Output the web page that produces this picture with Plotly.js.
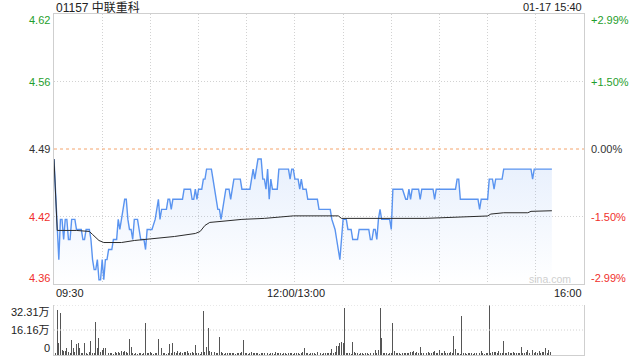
<!DOCTYPE html>
<html><head><meta charset="utf-8">
<script src="https://cdn.plot.ly/plotly-3.0.1.min.js"></script>
<style>html,body{margin:0;padding:0;background:#fff}#chart{width:640px;height:360px}</style>
</head><body><div id="chart"></div>
<script>
// ---- data ----
const stockCode = '01157';
const stockName = '中联重科';
const stamp = '01-17 15:40';
const prevClose = 4.49;
const bandPct = 0.0299;
const sessionMinutes = 330;
const timeLabels = ['09:30', '12:00/13:00', '16:00'];
const timeLabelMin = [0, 150, 330];
const priceLabels = ['4.62', '4.56', '4.49', '4.42', '4.36'];
const pctLabels = ['+2.99%', '+1.50%', '0.00%', '-1.50%', '-2.99%'];

const priceMin = [0,2,3,4,5,6,7,8,9,10,11,13,14,17,18,19,20,22,23,24,25,26,27,28,29,30,31,32,33,34,36,37,39,40,41,42,43,44,45,46,47,48,49,50,52,53,54,56,57,58,61,63,64,65,66,67,70,71,72,73,74,80,81,85,86,87,88,89,90,92,93,94,95,98,99,100,101,102,103,104,105,106,107,109,110,111,112,116,117,122,123,124,125,126,127,129,130,131,132,133,134,135,136,139,140,146,147,148,149,150,152,153,154,155,157,158,164,165,172,173,175,176,178,180,182,183,185,186,189,190,196,197,198,199,200,201,202,203,204,209,210,211,217,219,220,221,222,223,227,228,229,236,237,238,250,251,252,253,264,265,266,270,271,273,274,275,279,280,297,298,299,310];
const price = [4.48,4.42,4.38,4.42,4.42,4.40,4.42,4.42,4.40,4.40,4.42,4.42,4.41,4.41,4.40,4.40,4.41,4.41,4.40,4.38,4.37,4.37,4.38,4.36,4.36,4.38,4.36,4.38,4.38,4.39,4.39,4.40,4.40,4.42,4.41,4.42,4.43,4.44,4.44,4.42,4.41,4.41,4.40,4.42,4.42,4.41,4.40,4.40,4.39,4.41,4.41,4.42,4.43,4.44,4.42,4.43,4.43,4.44,4.44,4.43,4.44,4.44,4.45,4.45,4.44,4.44,4.45,4.44,4.45,4.45,4.46,4.46,4.47,4.47,4.46,4.45,4.44,4.43,4.43,4.42,4.43,4.44,4.45,4.45,4.44,4.45,4.46,4.46,4.45,4.45,4.46,4.47,4.46,4.47,4.48,4.48,4.46,4.46,4.45,4.47,4.44,4.46,4.45,4.45,4.47,4.47,4.46,4.47,4.47,4.46,4.46,4.45,4.46,4.45,4.45,4.44,4.44,4.43,4.43,4.42,4.41,4.40,4.38,4.42,4.42,4.41,4.41,4.40,4.40,4.41,4.41,4.40,4.40,4.41,4.41,4.40,4.42,4.43,4.42,4.42,4.41,4.45,4.45,4.44,4.44,4.45,4.44,4.45,4.45,4.44,4.45,4.45,4.44,4.45,4.45,4.46,4.46,4.44,4.44,4.43,4.44,4.44,4.46,4.46,4.45,4.46,4.46,4.47,4.47,4.46,4.47,4.47];

const avgMin = [0,2,14,22,24,28,31,42,50,62,75,88,91,94,97,104,117,131,140,149,177,179,231,248,262,270,272,280,295,297,310];
const avgPrice = [4.48,4.409,4.409,4.408,4.405,4.399,4.397,4.397,4.399,4.401,4.403,4.406,4.408,4.414,4.417,4.418,4.420,4.421,4.422,4.4235,4.4235,4.421,4.421,4.422,4.4234,4.4234,4.4253,4.4266,4.4266,4.428,4.4286];

const volume = [
 20000,15000,290000,75000,274000,30000,25000,28000,43000,18000,
 15000,97000,43000,22000,69000,75000,43000,15000,10000,80000,
 12000,9000,18000,90000,14000,10000,215000,43000,108000,20000,
 32000,43000,43000,43000,15000,10000,12000,8000,20000,15000,
 22000,15000,25000,18000,28000,20000,12000,103000,54000,10000,
 8000,12000,6000,10000,15000,9000,12000,209000,10000,15000,
 20000,12000,8000,15000,10000,101000,18000,43000,12000,10000,
 9000,15000,71000,12000,75000,18000,10000,25000,12000,20000,
 15000,18000,22000,28000,15000,12000,20000,10000,65000,15000,
 12000,8000,20000,284000,22000,54000,174000,25000,18000,15000,
 20000,12000,15000,114000,18000,10000,8000,15000,12000,10000,
 12000,15000,10000,8000,12000,15000,10000,18000,97000,12000,
 10000,8000,15000,20000,12000,10000,15000,12000,8000,10000,
 12000,15000,47000,10000,8000,12000,10000,8000,20000,10000,
 10000,12000,8000,15000,10000,8000,12000,15000,10000,8000,
 12000,10000,15000,8000,12000,20000,47000,10000,15000,8000,
 10000,15000,12000,8000,20000,10000,15000,8000,12000,10000,
 15000,10000,12000,39000,15000,20000,58000,58000,80000,84000,
 75000,302000,10000,15000,12000,8000,86000,20000,10000,12000,
 8000,10000,12000,8000,15000,10000,8000,12000,10000,15000,
 32000,12000,32000,302000,110000,10000,15000,12000,8000,10000,
 15000,207000,25000,12000,10000,15000,8000,12000,10000,15000,
 12000,15000,20000,18000,26000,15000,20000,12000,50000,15000,
 10000,18000,15000,20000,12000,15000,18000,26000,12000,10000,
 32000,15000,12000,26000,15000,10000,12000,20000,15000,123000,
 39000,12000,10000,8000,252000,10000,12000,8000,10000,15000,
 12000,8000,10000,15000,12000,10000,26000,12000,8000,15000,
 10000,323100,15000,20000,18000,22000,15000,25000,12000,10000,
 90000,15000,12000,20000,10000,15000,18000,12000,10000,15000,
 12000,50000,15000,10000,18000,32000,12000,10000,32000,15000,
 20000,12000,28000,15000,20000,18000,43000,12000,32000,20000
];

// ---- build ----
const hi = prevClose * (1 + bandPct);
const lo = prevClose * (1 - bandPct);
const tickPos = [0,1,2,3,4].map(i => hi - i * (hi - lo) / 4);
const volMax = Math.max(...volume);
const volIdx = volume.map((_, i) => i);

const GREEN = '#1f9e2c', RED = '#f0302c', DARK = '#333333';
const labelColors = [GREEN, GREEN, DARK, RED, RED];
const FONT = 'Liberation Sans, Arial, "Noto Sans CJK SC", sans-serif';
const GRID = '#d2d2d2';
const GRIDDASH = '1px,2px';

const traces = [
  {
    x: priceMin, y: price, type: 'scatter', mode: 'lines',
    xaxis: 'x', yaxis: 'y',
    line: {color: '#5a94f0', width: 1.4},
    fill: 'tozeroy',
    fillgradient: {type: 'vertical', start: lo, stop: prevClose,
      colorscale: [[0, 'rgba(85,144,239,0.0)'], [1, 'rgba(85,144,239,0.15)']]},
    hoverinfo: 'skip'
  },
  {
    x: avgMin, y: avgPrice, type: 'scatter', mode: 'lines',
    xaxis: 'x', yaxis: 'y',
    line: {color: '#2b2b2b', width: 1},
    hoverinfo: 'skip'
  },
  {
    x: volIdx, y: volume, type: 'bar', xaxis: 'x2', yaxis: 'y2',
    marker: {color: '#555555', line: {width: 0}}, width: 0.6,
    hoverinfo: 'skip'
  }
];

const pDomBottom = (355 - 284) / 341;
const vDomTop = 50 / 341;

const annotations = [];
annotations.push({text: stockCode + ' ' + stockName, xref: 'paper', yref: 'paper', x: 0, y: 1,
  xanchor: 'left', yanchor: 'middle', yshift: 7, showarrow: false,
  font: {size: 12, color: '#222', family: FONT}});
annotations.push({text: stamp, xref: 'paper', yref: 'paper', x: 1, y: 1,
  xanchor: 'right', yanchor: 'middle', yshift: 7, showarrow: false,
  font: {size: 11, color: '#222', family: FONT}});
const shifts = [-6, 0, 0, 0, 6];
for (let i = 0; i < 5; i++) {
  annotations.push({text: priceLabels[i], xref: 'paper', yref: 'y', x: 0, y: tickPos[i],
    xanchor: 'right', yanchor: 'middle', xshift: -2, yshift: shifts[i], showarrow: false,
    font: {size: 11, color: labelColors[i], family: FONT}});
  annotations.push({text: pctLabels[i], xref: 'paper', yref: 'y', x: 1, y: tickPos[i],
    xanchor: 'left', yanchor: 'middle', xshift: 5, yshift: shifts[i], showarrow: false,
    font: {size: 11, color: labelColors[i], family: FONT}});
}
const volTicks = [volMax, volMax / 2, 0];
const volText = volTicks.map(v => v === 0 ? '0' : (v / 10000).toFixed(2) + '万');
const vShifts = [-7, 0, 7];
for (let i = 0; i < 3; i++) {
  annotations.push({text: volText[i], xref: 'paper', yref: 'y2', x: 0, y: volTicks[i],
    xanchor: 'right', yanchor: 'middle', xshift: -2, yshift: vShifts[i], showarrow: false,
    font: {size: 11, color: '#222', family: FONT}});
}
const anchors = ['left', 'center', 'right'];
for (let i = 0; i < 3; i++) {
  annotations.push({text: timeLabels[i], xref: 'x', yref: 'y domain', x: timeLabelMin[i], y: 0,
    xanchor: anchors[i], yanchor: 'middle', yshift: -9, xshift: i === 1 ? 1 : 0, showarrow: false,
    font: {size: 11, color: '#222', family: FONT}});
}
annotations.push({text: 'sina.com', xref: 'paper', yref: 'y domain', x: 0.98, y: 0,
  xanchor: 'right', yanchor: 'middle', yshift: 5, showarrow: false,
  font: {size: 10.5, color: '#cfcfcf', family: FONT}});

const shapes = [
  {type: 'line', xref: 'paper', yref: 'y', x0: 0, x1: 1, y0: prevClose, y1: prevClose,
   line: {color: '#f4a46c', width: 1, dash: '3px,3px'}},
  {type: 'line', xref: 'paper', yref: 'y2', x0: 0, x1: 1, y0: volMax, y1: volMax,
   line: {color: GRID, width: 1, dash: GRIDDASH}},
  {type: 'line', xref: 'paper', yref: 'y2', x0: 0, x1: 1, y0: volMax / 2, y1: volMax / 2,
   line: {color: GRID, width: 1, dash: GRIDDASH}}
];

const gridTicks = [];
for (let m = 0; m <= sessionMinutes; m += 30) gridTicks.push(m);

const layout = {
  width: 640, height: 360,
  margin: {l: 54, r: 56, t: 14, b: 5, pad: 0},
  paper_bgcolor: '#ffffff', plot_bgcolor: '#ffffff',
  showlegend: false,
  font: {family: FONT, size: 11, color: '#222'},
  bargap: 0,
  xaxis: {domain: [0, 1], anchor: 'y', range: [0, sessionMinutes],
    tickvals: gridTicks, showticklabels: false, ticks: '',
    showgrid: true, gridcolor: GRID, griddash: GRIDDASH, gridwidth: 1,
    showline: true, mirror: true, linecolor: '#cfcfcf', linewidth: 1, zeroline: false, fixedrange: true},
  yaxis: {domain: [pDomBottom, 1], anchor: 'x', range: [lo, hi],
    tickvals: [tickPos[1], tickPos[3]], showticklabels: false, ticks: '',
    showgrid: true, gridcolor: GRID, griddash: GRIDDASH, gridwidth: 1,
    showline: true, mirror: true, linecolor: '#cfcfcf', linewidth: 1, zeroline: false, fixedrange: true},
  xaxis2: {domain: [0, 1], anchor: 'y2', range: [0, sessionMinutes],
    showticklabels: false, ticks: '', showgrid: false,
    showline: true, linecolor: '#cfcfcf', linewidth: 1, zeroline: false, fixedrange: true},
  yaxis2: {domain: [0, vDomTop], anchor: 'x2', range: [0, volMax],
    showticklabels: false, ticks: '', showgrid: false,
    showline: true, mirror: true, linecolor: '#cfcfcf', linewidth: 1, zeroline: false, fixedrange: true},
  annotations: annotations,
  shapes: shapes
};

Plotly.newPlot('chart', traces, layout, {displayModeBar: false, staticPlot: true});
</script></body></html>
